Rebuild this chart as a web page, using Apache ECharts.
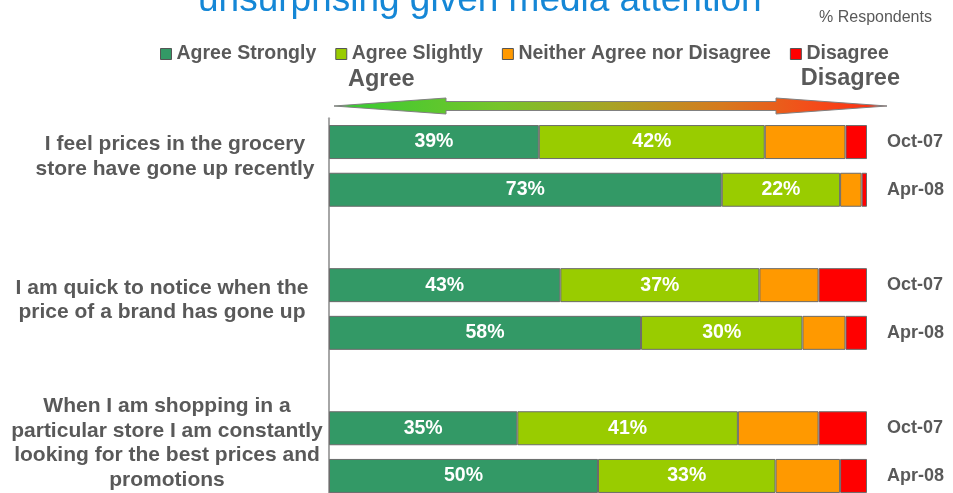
<!DOCTYPE html>
<html>
<head>
<meta charset="utf-8">
<script src="https://cdn.jsdelivr.net/npm/echarts@6/dist/echarts.min.js"></script>
<style>
  html, body { margin: 0; padding: 0; background: #ffffff; }
  #chart { width: 953px; height: 493px; }
</style>
</head>
<body>
<div id="chart"></div>
<script>
// Survey statements (left) and the two survey waves (right)
const questions = [
  'I feel prices in the grocery\nstore have gone up recently',
  'I am quick to notice when the\nprice of a brand has gone up',
  'When I am shopping in a\nparticular store I am constantly\nlooking for the best prices and\npromotions'
];
const waves = ['Oct-07', 'Apr-08'];

// % respondents, one value per statement x wave (Oct-07, Apr-08, ...)
const agreeStrongly = [39, 73, 43, 58, 35, 50];
const agreeSlightly = [42, 22, 37, 30, 41, 33];
const neither       = [15, 4, 11, 8, 15, 12];
const disagree      = [4, 1, 9, 4, 9, 5];

const seriesNames = ['Agree Strongly', 'Agree Slightly', 'Neither Agree nor Disagree', 'Disagree'];
const seriesColors = ['#339966', '#99cc00', '#ff9900', '#ff0000'];
const seriesValues = [agreeStrongly, agreeSlightly, neither, disagree];
const labelled = [true, true, false, false];

// horizontal centre of each statement block
const questionLabelX = [175, 162, 167];

const FONT = '"Liberation Sans", Arial, Helvetica, sans-serif';
const GREY = '#595959';

// Build the category slots: two waves per statement, an empty slot between statements
const slotKeys = [];
const slotWave = [];
const slotIndex = [];   // index into value arrays, or -1 for a spacer
questions.forEach((q, qi) => {
  waves.forEach((w, wi) => {
    slotKeys.push('q' + qi + 'w' + wi);
    slotWave.push(w);
    slotIndex.push(qi * waves.length + wi);
  });
  if (qi < questions.length - 1) {
    slotKeys.push('gap' + qi);
    slotWave.push('');
    slotIndex.push(-1);
  }
});

const series = seriesNames.map((name, si) => ({
  name: name,
  type: 'bar',
  stack: 'total',
  barWidth: 34,
  data: slotIndex.map(i => (i < 0 ? '-' : seriesValues[si][i])),
  itemStyle: { color: seriesColors[si], borderColor: '#6b6b6b', borderWidth: 1 },
  label: {
    show: labelled[si],
    position: 'inside',
    formatter: '{c}%',
    color: '#ffffff',
    fontFamily: FONT,
    fontWeight: 'bold',
    fontSize: 19.5,
    textBorderWidth: 0
  },
  emphasis: { disabled: true },
  silent: true,
  animation: false
}));

const chart = echarts.init(document.getElementById('chart'), null, { renderer: 'canvas' });

chart.setOption({
  animation: false,
  backgroundColor: '#ffffff',
  legend: {
    data: seriesNames,
    left: 155,
    top: 39,
    icon: 'rect',
    itemWidth: 11,
    itemHeight: 11,
    itemGap: 19,
    itemStyle: { borderColor: '#555555', borderWidth: 1 },
    textStyle: { fontFamily: FONT, fontWeight: 'bold', fontSize: 19.5, color: GREY },
    selectedMode: false
  },
  grid: {
    left: 329,
    right: 86,
    top: 118.2,
    height: 381.6,
    containLabel: false,
    outerBoundsMode: 'none'
  },
  xAxis: {
    type: 'value',
    min: 0,
    max: 100,
    show: false
  },
  yAxis: [
    {
      type: 'category',
      inverse: true,
      data: slotKeys,
      axisLine: { show: true, lineStyle: { color: '#a6a6a6', width: 2 } },
      axisTick: { show: false },
      axisLabel: { show: false },
      splitLine: { show: false }
    },
    {
      type: 'category',
      inverse: true,
      position: 'right',
      data: slotKeys,
      axisLine: { show: false },
      axisTick: { show: false },
      splitLine: { show: false },
      axisLabel: {
        margin: 20,
        align: 'left',
        fontFamily: FONT,
        fontWeight: 'bold',
        fontSize: 18,
        color: GREY,
        formatter: (v, i) => slotWave[i]
      }
    }
  ],
  series: series
});

// Statement labels sit a little above the middle of their two bars
const questionGraphics = questions.map((q, qi) => {
  const y0 = chart.convertToPixel({ yAxisIndex: 0 }, 'q' + qi + 'w0');
  const y1 = chart.convertToPixel({ yAxisIndex: 0 }, 'q' + qi + 'w' + (waves.length - 1));
  return {
    type: 'text',
    x: questionLabelX[qi],
    y: (y0 + y1) / 2 - 9,
    silent: true,
    style: {
      text: q,
      align: 'center',
      verticalAlign: 'middle',
      lineHeight: 24.5,
      fontFamily: FONT,
      fontWeight: 'bold',
      fontSize: 21,
      fill: GREY
    }
  };
});

// Double-headed Agree -> Disagree arrow
const arrowFill = new echarts.graphic.LinearGradient(0, 0, 1, 0, [
  { offset: 0, color: '#33cc33' },
  { offset: 0.3, color: '#77c42a' },
  { offset: 0.5, color: '#a8a325' },
  { offset: 0.7, color: '#d67a1e' },
  { offset: 0.85, color: '#f2501a' },
  { offset: 1, color: '#ff2a12' }
]);

chart.setOption({
  graphic: [
    {
      type: 'text', x: 198, y: 1, silent: true,
      style: {
        text: 'unsurprising given media attention',
        align: 'left', verticalAlign: 'middle',
        fontFamily: FONT, fontSize: 37, fill: '#1587d6'
      }
    },
    {
      type: 'text', x: 819, y: 18, silent: true,
      style: {
        text: '% Respondents',
        align: 'left', verticalAlign: 'middle',
        fontFamily: FONT, fontSize: 16, fill: GREY
      }
    },
    {
      type: 'text', x: 348, y: 80, silent: true,
      style: {
        text: 'Agree',
        align: 'left', verticalAlign: 'middle',
        fontFamily: FONT, fontWeight: 'bold', fontSize: 23.5, fill: GREY
      }
    },
    {
      type: 'text', x: 900, y: 79, silent: true,
      style: {
        text: 'Disagree',
        align: 'right', verticalAlign: 'middle',
        fontFamily: FONT, fontWeight: 'bold', fontSize: 23.5, fill: GREY
      }
    },
    {
      type: 'polygon', silent: true,
      shape: {
        points: [
          [334, 106], [446, 98], [446, 101.5], [776, 101.5], [776, 98],
          [887, 106], [776, 114], [776, 110.5], [446, 110.5], [446, 114]
        ]
      },
      style: { fill: arrowFill, stroke: '#808080', lineWidth: 1 }
    }
  ].concat(questionGraphics)
});
</script>
</body>
</html>
